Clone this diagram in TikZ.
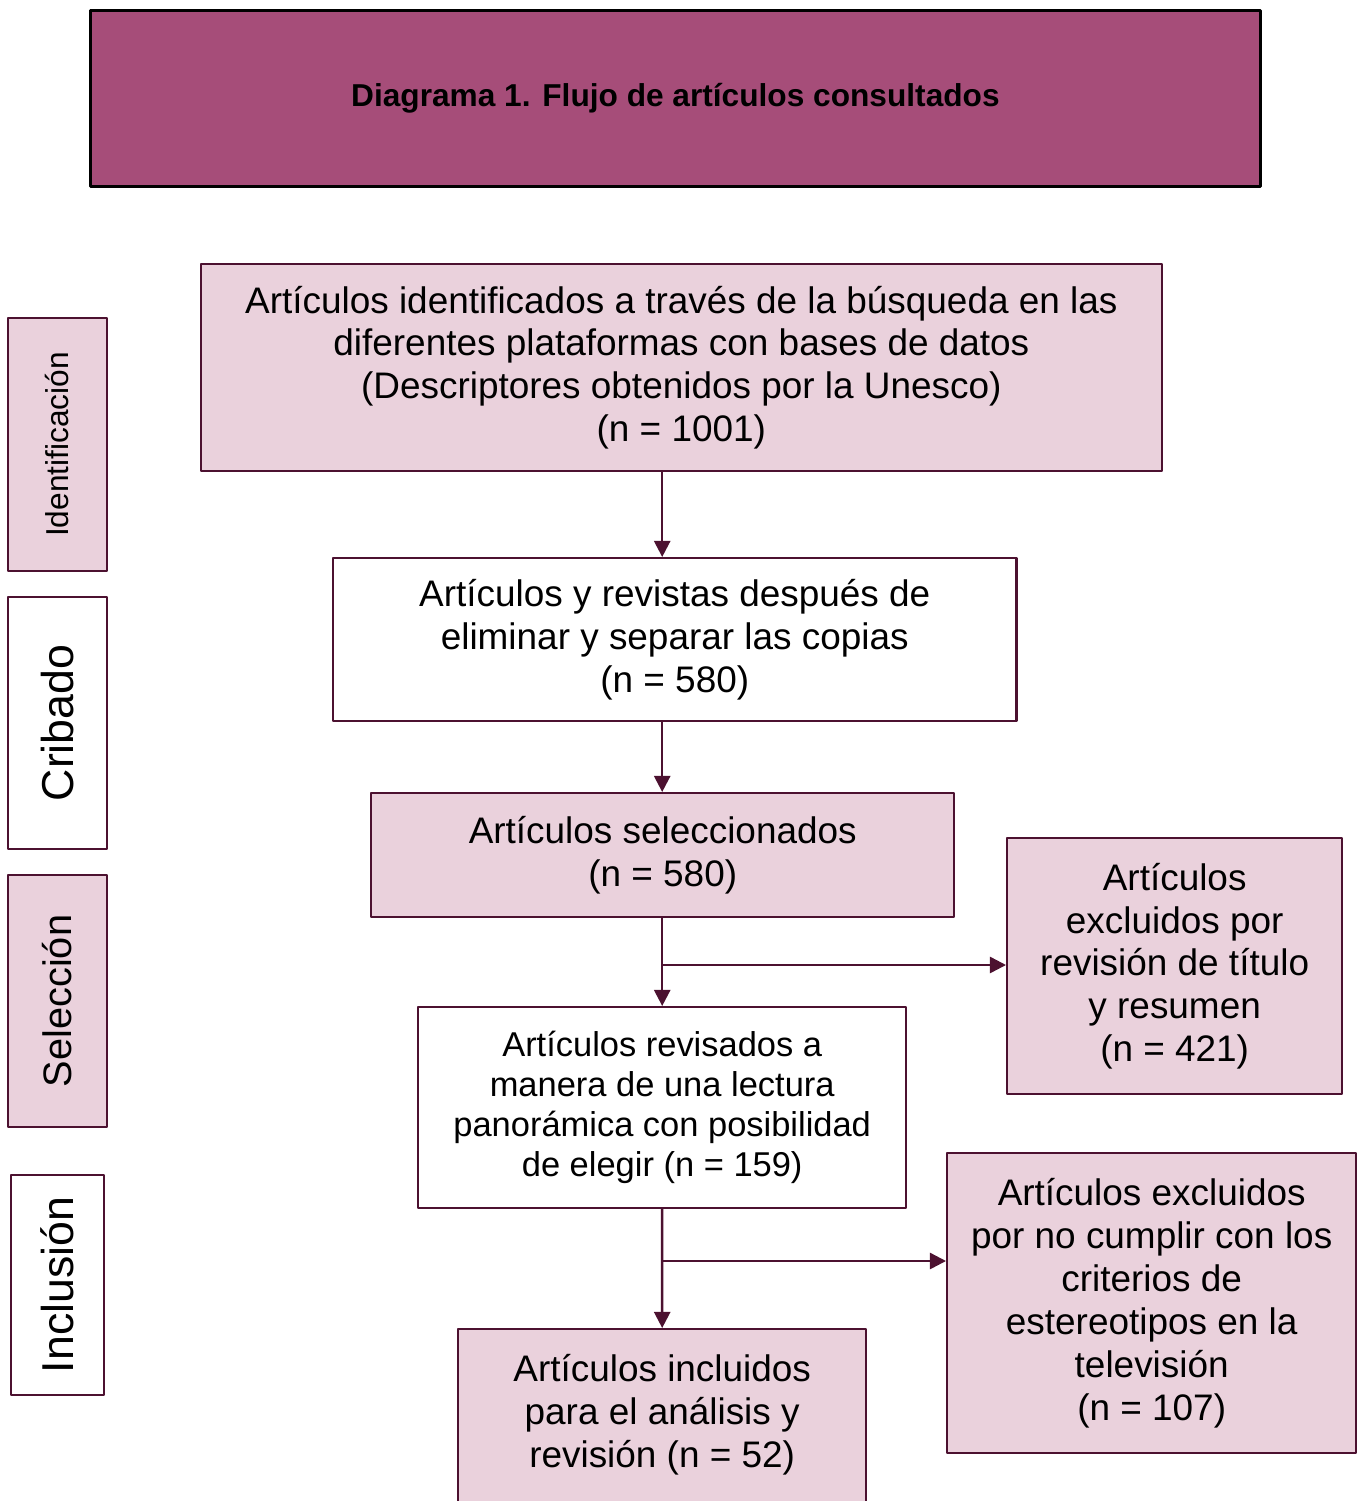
\documentclass[tikz,border=0pt]{standalone}
\usepackage{fontspec}
\setmainfont{Liberation Sans}
\usetikzlibrary{arrows.meta}
\definecolor{titulo}{HTML}{A64D79}
\definecolor{rosa}{HTML}{EAD1DC}
\definecolor{borde}{HTML}{4C1130}
\tikzset{
	caja/.style={draw=borde, line width=0.6pt, inner sep=0pt, align=center, anchor=north west, font=\fontsize{10.5}{12.2}\selectfont},
	fase/.style={draw=borde, line width=0.6pt, inner sep=0pt, rotate=90, minimum height=0.99cm, minimum width=2.52cm},
	flecha/.style={draw=borde, line width=0.7pt, -{Triangle[length=4.6pt,width=4.6pt]}}
}
\begin{document}
\begin{tikzpicture}[x=0.01cm, y=-0.01cm, line join=round]
	\useasboundingbox (0,0) rectangle (1362,1501); % medidas en px
	\node[caja, fill=titulo, draw=black, line width=0.9pt, minimum width=11.69cm, minimum height=1.76cm, font=\fontsize{9}{11}\bfseries\selectfont] (titulo) at (89,9) {Diagrama 1. Flujo de artículos consultados};
	% fases
	\node[fase, fill=rosa, font=\fontsize{9}{11}\selectfont] (fid) at (57.5,444.5) {Identificación};
	\node[fase, font=\fontsize{12.7}{15}\selectfont] (fcr) at (57.5,723) {Cribado};
	\node[fase, fill=rosa, font=\fontsize{11.3}{13}\selectfont] (fsel) at (57.5,1001) {Selección};
	\node[fase, minimum height=0.93cm, minimum width=2.2cm, font=\fontsize{12.7}{15}\selectfont] (finc) at (57.5,1285) {Inclusión};
	% cajas del flujo
	\node[caja, fill=rosa, minimum width=9.6cm, minimum height=2.07cm] (id) at (200,263) {Artículos identificados a través de la búsqueda en las\\diferentes plataformas con bases de datos\\(Descriptores obtenidos por la Unesco)\\(n = 1001)};
	\node[caja, fill=white, minimum width=6.83cm, minimum height=1.63cm] (cr) at (332,557) {Artículos y revistas después de\\eliminar y separar las copias\\(n = 580)};
	\node[caja, fill=rosa, minimum width=5.83cm, minimum height=1.24cm] (sel) at (370,792) {Artículos seleccionados\\(n = 580)};
	\node[caja, fill=white, minimum width=4.88cm, minimum height=2.01cm, font=\fontsize{9.8}{11.4}\selectfont] (rev) at (417,1006) {Artículos revisados a\\manera de una lectura\\panorámica con posibilidad\\de elegir (n = 159)};
	\node[caja, fill=rosa, minimum width=4.08cm, minimum height=1.9cm, text depth=7.5pt] (inc) at (457,1328) {Artículos incluidos\\para el análisis y\\revisión (n = 52)};
	\node[caja, fill=rosa, minimum width=3.35cm, minimum height=2.56cm] (exc1) at (1006,837) {Artículos\\excluidos por\\revisión de título\\y resumen\\(n = 421)};
	\node[caja, fill=rosa, minimum width=4.09cm, minimum height=3.0cm] (exc2) at (946,1152) {Artículos excluidos\\por no cumplir con los\\criterios de\\estereotipos en la\\televisión\\(n = 107)};
	% flechas
	\coordinate (r1) at (661,965);
	\coordinate (r2) at (661,1261);
	\draw[flecha] (id.south -| rev.north) -- (cr.north -| rev.north);
	\draw[flecha] (cr.south -| rev.north) -- (sel.north -| rev.north);
	\draw[flecha] (sel.south -| rev.north) -- (rev.north);
	\draw[flecha] (r1) -- (r1 -| exc1.west);
	\draw[flecha] (rev.south) -- (inc.north);
	\draw[flecha] (r2) -- (r2 -| exc2.west);
\end{tikzpicture}
\end{document}
